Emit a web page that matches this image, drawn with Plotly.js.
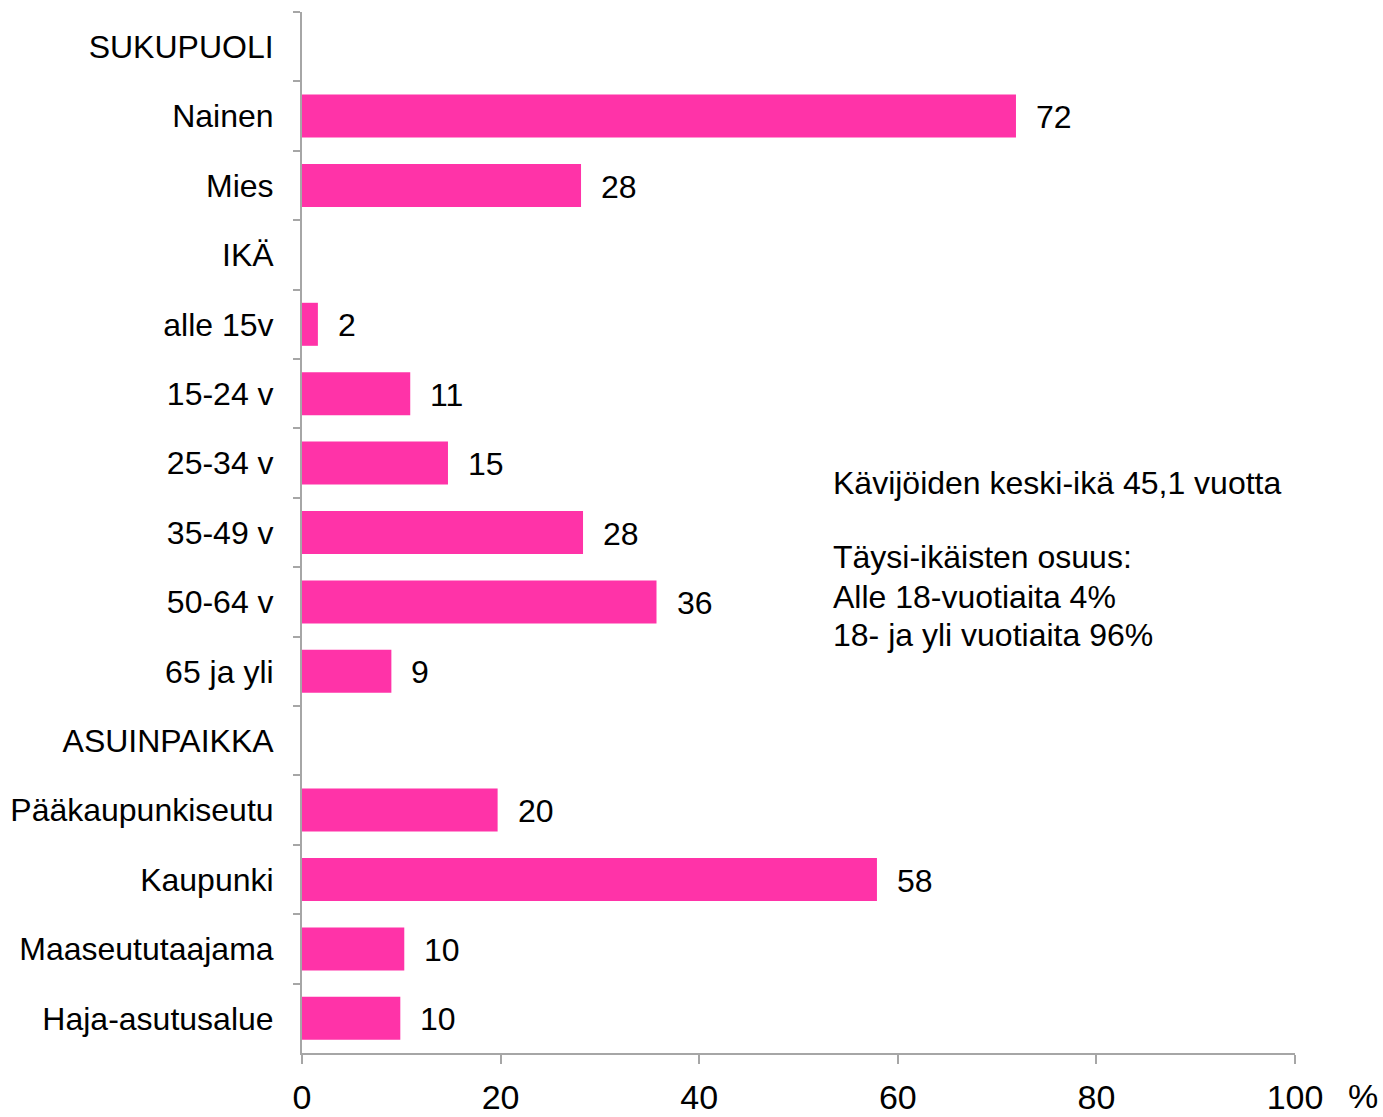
<!DOCTYPE html>
<html>
<head>
<meta charset="utf-8">
<script src="https://cdn.plot.ly/plotly-3.0.1.min.js"></script>
<style>html,body{margin:0;padding:0;background:#fff;}</style>
</head>
<body>
<div id="chart" style="width:1383px;height:1117px;"></div>
<script>
var categories = ["SUKUPUOLI","Nainen","Mies","IKÄ","alle 15v","15-24 v","25-34 v","35-49 v","50-64 v","65 ja yli","ASUINPAIKKA","Pääkaupunkiseutu","Kaupunki","Maaseututaajama","Haja-asutusalue"];
var values = [null,71.9,28.1,null,1.6,10.9,14.7,28.3,35.7,9.0,null,19.7,57.9,10.3,9.9];
var xTicks = [0,20,40,60,80,100];
var noteLines = ["Kävijöiden keski-ikä 45,1 vuotta","Täysi-ikäisten osuus:","Alle 18-vuotiaita 4%","18- ja yli vuotiaita 96%"];

var FONT = "Liberation Sans, Arial, sans-serif";
var AXC = "#a6a6a6";

var trace = {
  type: "bar",
  orientation: "h",
  x: values,
  y: categories,
  marker: {color: "#ff33a8"},
  hoverinfo: "skip"
};

var pw = 1383 - 302 - 88, ph = 1117 - 12 - 64;
function py(p) { return (1053 - p) / ph; }
function px(p) { return (p - 302) / pw; }

var annotations = [];
for (var i = 0; i < categories.length; i++) {
  if (values[i] !== null) {
    annotations.push({
      x: values[i], y: categories[i], xref: "x", yref: "y",
      text: String(Math.round(values[i])),
      showarrow: false, xanchor: "left", yanchor: "middle", xshift: 18, yshift: -1,
      font: {family: FONT, size: 32, color: "#000"}
    });
  }
}
var noteY = [483, 557, 597, 635];
for (var j = 0; j < noteLines.length; j++) {
  annotations.push({
    x: px(831), y: py(noteY[j]), xref: "paper", yref: "paper", text: noteLines[j],
    showarrow: false, xanchor: "left", yanchor: "middle", align: "left",
    font: {family: FONT, size: 32, color: "#000"}
  });
}
annotations.push({
  x: px(1363), y: py(1096), xref: "paper", yref: "paper", text: "%",
  showarrow: false, xanchor: "center", yanchor: "middle", borderpad: 0,
  font: {family: FONT, size: 34, color: "#000"}
});

var layout = {
  width: 1383, height: 1117,
  margin: {l: 302, r: 88, t: 12, b: 64},
  paper_bgcolor: "#fff", plot_bgcolor: "#fff",
  showlegend: false,
  bargap: 0.38,
  font: {family: FONT, color: "#000"},
  xaxis: {
    range: [0, 100], tickvals: xTicks, ticktext: xTicks.map(String),
    showgrid: false, zeroline: false, showline: true, linecolor: AXC, linewidth: 2,
    ticks: "outside", ticklen: 9, tickwidth: 2, tickcolor: AXC,
    tickfont: {family: FONT, size: 34, color: "#000"}, ticklabelstandoff: 4,
    fixedrange: true
  },
  yaxis: {
    type: "category", categoryorder: "array", categoryarray: categories,
    autorange: "reversed",
    showgrid: false, zeroline: false, showline: true, linecolor: AXC, linewidth: 2,
    ticks: "outside", ticklen: 7, tickwidth: 2, tickcolor: AXC, tickson: "boundaries",
    tickfont: {family: FONT, size: 32, color: "#000"}, ticklabelstandoff: 20,
    fixedrange: true
  },
  annotations: annotations
};

Plotly.newPlot("chart", [trace], layout, {displayModeBar: false, staticPlot: true});
</script>
</body>
</html>
